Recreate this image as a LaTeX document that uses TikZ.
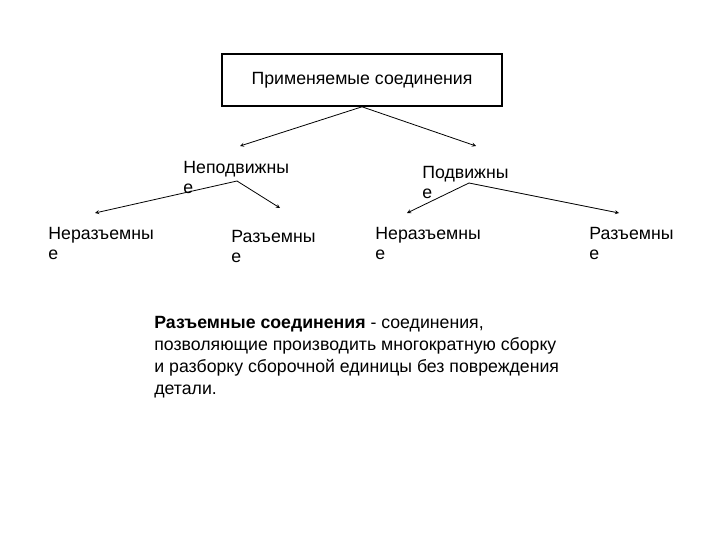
\documentclass[tikz,border=0pt]{standalone}
\usepackage{fontspec}
\setmainfont{Liberation Sans}
\usetikzlibrary{arrows,positioning}

\begin{document}
\begin{tikzpicture}[x=1pt,y=-1pt,
lbl/.style={anchor=base west,align=left,inner sep=0pt,
font=\fontsize{17.7}{20.5}\selectfont},
line width=0.8pt,>=stealth]
\useasboundingbox (0,0) rectangle (720,540);
\node[draw,line width=1.6pt,minimum width=280pt,minimum height=52pt,
font=\fontsize{17.7}{20}\selectfont] (top) at (362,80) {Применяемые соединения};
% labels (base = last line)
\node[lbl] (fix) at (183,193.5) {Неподвижны\\е};
\node[lbl] (mov) at (422,198.5) {Подвижны\\е};
\node[lbl] (fixa) at (48,259.5) {Неразъемны\\е};
\node[lbl] (fixb) at (231,262.5) {Разъемны\\е};
\node[lbl] (mova) at (375,259.5) {Неразъемны\\е};
\node[lbl] (movb) at (589,259.5) {Разъемны\\е};
\node[lbl,font=\fontsize{17.7}{21.7}\selectfont] (def) at (154,394)
{\textbf{Разъемные соединения} - соединения,\\
позволяющие производить многократную сборку\\
и разборку сборочной единицы без повреждения\\
детали.};
% arrow ends
\coordinate (fix-in) at (240,146);
\coordinate (mov-in) at (476,146);
\coordinate (fix-out) at (237,181);
\coordinate (mov-out) at (469,183);
\coordinate (fixa-in) at (95,213);
\coordinate (fixb-in) at (280,208);
\coordinate (mova-in) at (407,213);
\coordinate (movb-in) at (619,213);
\path[->](top.south) edge (fix-in);
\path[->](top.south) edge (mov-in);
\path[->](fix-out) edge (fixa-in);
\path[->](fix-out) edge (fixb-in);
\path[->](mov-out) edge (mova-in);
\path[->](mov-out) edge (movb-in);
\end{tikzpicture}
\end{document}
